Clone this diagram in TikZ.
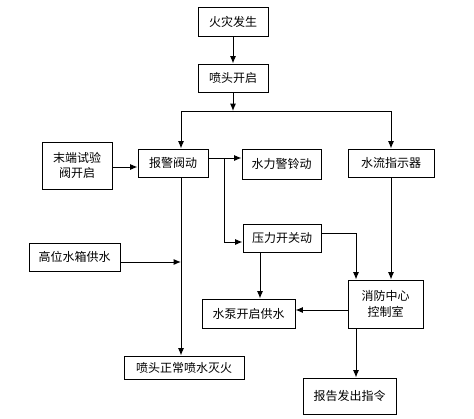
\documentclass[tikz,border=0pt]{standalone}
\usepackage{fontspec}
\newfontfamily\cjk{Noto Sans CJK SC}
\usetikzlibrary{calc}
\usetikzlibrary{arrows.meta}
\tikzset{>=latex}
\tikzset{edge/.style = {->,> = {Latex[length=5.5pt,width=4.5pt]}, line width=0.75pt}}
\tikzset{box/.style = {draw, line width=0.75pt, inner sep=1pt, align=center,
    font=\cjk\fontsize{9}{11.5}\selectfont}}

\begin{document}
\begin{tikzpicture}[x=0.75pt,y=-0.75pt]
                    \useasboundingbox (0,0) rectangle (474,418);

                    % boxes
                    \node[box, minimum width=70*0.75pt, minimum height=29*0.75pt] (fire) at (233,21.5) {火灾发生};
                    \node[box, minimum width=70*0.75pt, minimum height=28*0.75pt] (open) at (233,78) {喷头开启};
                    \node[box, minimum width=70*0.75pt, minimum height=28*0.75pt] (alarm) at (173,163) {报警阀动};
                    \node[box, minimum width=70*0.75pt, minimum height=47*0.75pt] (test) at (77,165.5) {末端试验\\阀开启};
                    \node[box, minimum width=79*0.75pt, minimum height=30*0.75pt] (bell) at (281.5,164) {水力警铃动};
                    \node[box, minimum width=86*0.75pt, minimum height=28*0.75pt] (flow) at (391,163) {水流指示器};
                    \node[box, minimum width=78*0.75pt, minimum height=28*0.75pt] (switch) at (282,238) {压力开关动};
                    \node[box, minimum width=91*0.75pt, minimum height=28*0.75pt] (tank) at (74.5,257) {高位水箱供水};
                    \node[box, minimum width=120*0.75pt, minimum height=23*0.75pt] (spray) at (184,367.5) {喷头正常喷水灭火};
                    \node[box, minimum width=75*0.75pt, minimum height=48*0.75pt] (ctrl) at (385.5,304) {消防中心\\控制室};
                    \node[box, minimum width=93*0.75pt, minimum height=29*0.75pt] (pump) at (248.5,313.5) {水泵开启供水};
                    \node[box, minimum width=93*0.75pt, minimum height=36*0.75pt] (report) at (349.5,396) {报告发出指令};

                    % branch points
                    \coordinate (j) at (233,111);
                    \coordinate (jl) at (181,111);
                    \coordinate (jr) at (391,111);
                    \coordinate (b) at (224,158);
                    \coordinate (p) at (356,233);
                    \coordinate (s) at (260,0);
                    \coordinate (c) at (0,310);

                    % fire to nozzle to split
                    \draw[edge] (fire) -- (open);
                    \draw[edge] (open) -- (j);
                    \draw[line width=0.75pt] (jl) -- (jr);
                    \draw[edge] (jl) -- (jl |- alarm.north);
                    \draw[edge] (jr) -- (flow.north);

                    % into and out of the alarm valve
                    \draw[edge] (test.east |- 0,167) -- (alarm.west |- 0,167);
                    \draw[edge] (alarm.east |- b) -- (bell.west |- b);
                    \draw[edge] (b) |- (switch.west |- 0,242);
                    \draw[edge] (jl |- alarm.south) -- (jl |- spray.north);
                    \draw[edge] (tank.east |- 0,262) -- (jl |- 0,262);

                    % pressure switch and control room
                    \draw[edge] (switch.east |- p) -- (p) -- (p |- ctrl.north);
                    \draw[edge] (flow.south) -- (flow.south |- ctrl.north);
                    \draw[edge] (s |- switch.south) -- (s |- pump.north);
                    \draw[edge] (ctrl.west |- c) -- (pump.east |- c);
                    \draw[edge] (p |- ctrl.south) -- (p |- report.north);
                \end{tikzpicture}
\end{document}
